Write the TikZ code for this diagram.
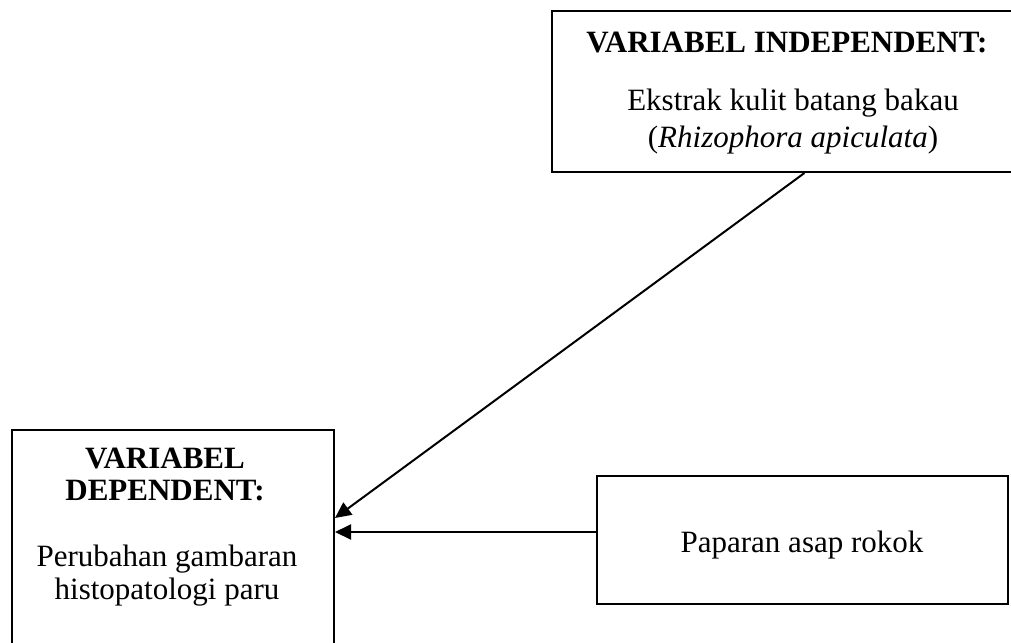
\documentclass[tikz,border=0pt]{standalone}
\usepackage{fontspec}
\setmainfont{Liberation Serif}
\usetikzlibrary{arrows.meta,calc}
\begin{document}
\begin{tikzpicture}[x=1pt,y=-1pt,
  box/.style={draw=black,line width=2pt,minimum height=#1,inner sep=0pt},
  txt/.style={font=\fontsize{31}{34}\selectfont,inner sep=0pt,anchor=center},
  conn/.style={line width=2pt,-{Triangle[length=16pt,width=15pt]}}]
\useasboundingbox (0,0) rectangle (1011,642);
\node[box=161pt,minimum width=463pt] (indep) at (783.5,91.5) {};
\node[box=220pt,minimum width=322pt] (dep) at (173,540) {};
\node[box=128pt,minimum width=411pt] (smoke) at (802.5,540) {};
\node[txt] (t1) at (787,43) {\textbf{VARIABEL INDEPENDENT:}};
\node[txt] (t2) at (793,103) {Ekstrak kulit batang bakau};
\node[txt] (t3) at (793,140) {(\textit{Rhizophora apiculata})};
\node[txt] (t4) at (165,458) {\textbf{VARIABEL}};
\node[txt] (t5) at (165,491) {\textbf{DEPENDENT:}};
\node[txt] (t6) at (167,559) {Perubahan gambaran};
\node[txt] (t7) at (167,592) {histopatologi paru};
\node[txt] (t8) at (802,545) {Paparan asap rokok};
\draw[conn] ($(indep.south west)!0.545!(indep.south east)$) -- ([yshift=22pt]dep.east);
\draw[conn] ([yshift=8pt]smoke.west) -- ([yshift=8pt]smoke.west -| dep.east);
\end{tikzpicture}
\end{document}
